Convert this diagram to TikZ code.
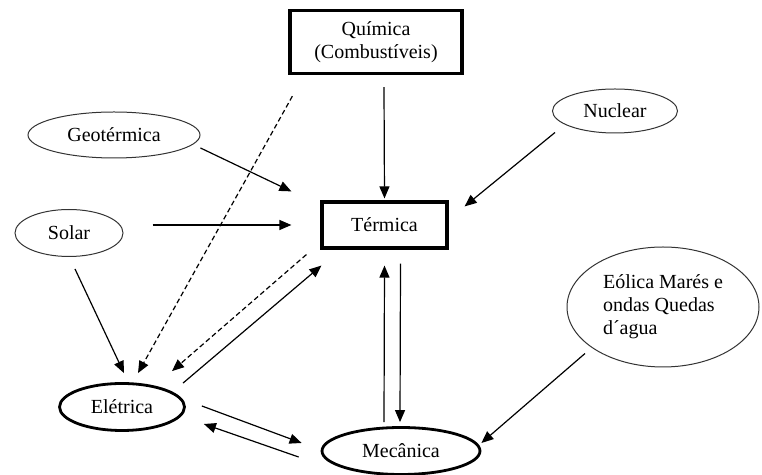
\documentclass[tikz,border=0pt]{standalone}
\usepackage{fontspec}
\setmainfont{Liberation Serif}
\usetikzlibrary{shapes.geometric,arrows.meta}

\begin{document}
\begin{tikzpicture}[x=0.5pt,y=-0.5pt,
    font=\fontsize{10}{11.5}\selectfont,
    >={Triangle[length=6pt,width=5pt]},
    caixa/.style={draw,line width=1.6pt,inner sep=0pt,align=center},
    fonte/.style={draw,black!80,line width=0.5pt,ellipse,inner sep=0pt,text=black},
    forma/.style={draw,line width=1.4pt,ellipse,inner sep=0pt},
    seta/.style={->,line width=0.6pt},
    tracejada/.style={->,line width=0.6pt,dash pattern=on 2.5pt off 1.5pt}]

    % fix the page size
    \useasboundingbox (0,0) rectangle (762,475);

    % forms of energy
    \node[caixa,minimum width=86pt,minimum height=31.5pt] (quim) at (376,42) {Química\\(Combustíveis)};
    \node[caixa,minimum width=62.5pt,minimum height=23pt] (term) at (384.5,225) {Térmica};
    \node[forma,minimum width=62.5pt,minimum height=23.5pt] (elet) at (122,407) {Elétrica};
    \node[forma,minimum width=79pt,minimum height=23.5pt] (mec) at (401,451) {Mecânica};

    % sources
    \node[fonte,minimum width=86pt,minimum height=23pt] (geo) at (114,135) {Geotérmica};
    \node[fonte,minimum width=54pt,minimum height=23.5pt] (solar) at (69,233) {Solar};
    \node[fonte,minimum width=62.5pt,minimum height=22pt] (nucl) at (615,111) {Nuclear};
    \node[fonte,minimum width=96pt,minimum height=60pt,align=left] (eol) at (663,307) {Eólica Marés e\\ondas Quedas\\d´agua};

    % arrows into Térmica
    \draw[seta] ([shift={(8,12)}]quim.south) -- ([shift={(0,-2)}]term.north);
    \draw[seta] ([shift={(0,13)}]geo.east) -- ([shift={(-29,-9)}]term.north west);
    \draw[seta] ([shift={(29,-8)}]solar.east) -- ([shift={(-29,0)}]term.west);
    \draw[seta] ([shift={(-60,-1)}]nucl.south) -- ([shift={(16,6)}]term.north east);

    % arrows into Elétrica
    \draw[seta] ([shift={(6,12)}]solar.south) -- ([shift={(2,-9)}]elet.north);
    \draw[tracejada] ([shift={(4,21)}]quim.south west) -- ([shift={(16,-9)}]elet.north);
    \draw[tracejada] ([shift={(-14,5)}]term.south west) -- ([shift={(50,-11)}]elet.north);
    \draw[seta] ([shift={(61,1)}]elet.north) -- ([shift={(1,16)}]term.south west);

    % Térmica <-> Mecânica
    \draw[seta] ([shift={(-17,-4)}]mec.north) -- ([shift={(0,16)}]term.south);
    \draw[seta] ([shift={(16,14)}]term.south) -- ([shift={(-1,-4)}]mec.north);

    % Elétrica <-> Mecânica
    \draw[seta] ([shift={(16,-1)}]elet.east) -- ([shift={(-19,-8)}]mec.west);
    \draw[seta] ([shift={(-22,6)}]mec.west) -- ([shift={(18,17)}]elet.east);
    \draw[seta] ([shift={(-78,-14)}]eol.south) -- ([shift={(0,-8)}]mec.east);
\end{tikzpicture}
\end{document}
